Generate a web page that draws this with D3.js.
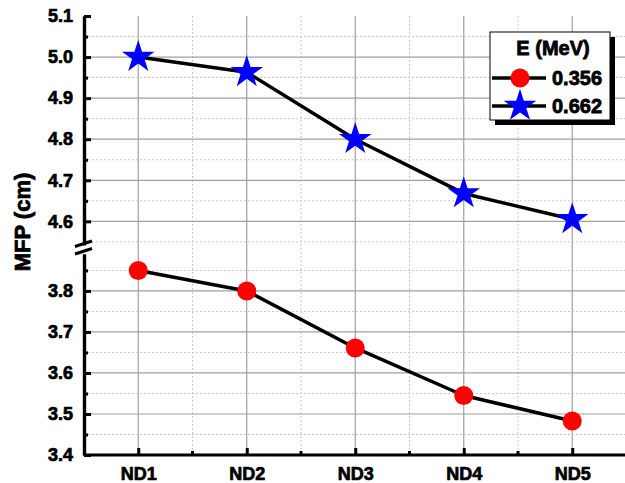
<!DOCTYPE html>
<html>
<head>
<meta charset="utf-8">
<script src="https://cdn.jsdelivr.net/npm/d3@7"></script>
<style>
  body { margin: 0; background: #fff; }
  text { font-family: "Liberation Sans", Arial, sans-serif; font-weight: bold; }
</style>
</head>
<body>
<script>
// data
var categories = ["ND1", "ND2", "ND3", "ND4", "ND5"];
var energies = ["0.356", "0.662"];
var mfp356 = [3.85, 3.80, 3.661, 3.545, 3.483];
var mfp662 = [5.00, 4.963, 4.80, 4.668, 4.605];
var upperTicks = [4.6, 4.7, 4.8, 4.9, 5.0, 5.1];
var lowerTicks = [3.4, 3.5, 3.6, 3.7, 3.8];
var upperMinor = [4.55, 4.65, 4.75, 4.85, 4.95, 5.05];
var lowerMinor = [3.45, 3.55, 3.65, 3.75, 3.85];

var width = 625, height = 483;
var left = 84, right = 626.5;

var svg = d3.select("body").append("svg")
  .attr("width", width)
  .attr("height", height);

var x = d3.scalePoint().domain(categories).range([left, right]).padding(0.5);
var step = x.step();

// two y segments of the broken axis
var yUp = d3.scaleLinear().domain([4.54, 5.1]).range([246, 16]);
var yLo = d3.scaleLinear().domain([3.4, 3.89]).range([455, 254]);

var grid = svg.append("g");

// vertical grid
var minorX = categories.map(function(c) { return x(c) + step / 2; });
grid.selectAll(".vminor").data(minorX).enter().append("line")
  .attr("x1", function(d) { return d; }).attr("x2", function(d) { return d; })
  .attr("y1", 16).attr("y2", 455)
  .attr("stroke", "#c8c8c8").attr("stroke-width", 1).attr("stroke-dasharray", "2,2");
grid.selectAll(".vmajor").data(categories).enter().append("line")
  .attr("x1", function(d) { return x(d); }).attr("x2", function(d) { return x(d); })
  .attr("y1", 16).attr("y2", 455)
  .attr("stroke", "#a0a0a0").attr("stroke-width", 1.2);

// horizontal grid
function hgrid(vals, scale, major) {
  grid.selectAll(null).data(vals).enter().append("line")
    .attr("x1", left).attr("x2", width)
    .attr("y1", function(d) { return scale(d); }).attr("y2", function(d) { return scale(d); })
    .attr("stroke", major ? "#a0a0a0" : "#c8c8c8")
    .attr("stroke-width", major ? 1.2 : 1)
    .attr("stroke-dasharray", major ? null : "2,2");
}
hgrid(upperMinor, yUp, false);
hgrid(lowerMinor, yLo, false);
hgrid(upperTicks.filter(function(d) { return d < 5.1; }), yUp, true);
hgrid(lowerTicks.filter(function(d) { return d > 3.4; }), yLo, true);

// axes
var axisUp = d3.axisLeft(yUp).tickValues(upperTicks).tickFormat(d3.format(".1f")).tickSizeInner(-7).tickSizeOuter(0).tickPadding(11);
var axisLo = d3.axisLeft(yLo).tickValues(lowerTicks).tickFormat(d3.format(".1f")).tickSizeInner(-7).tickSizeOuter(0).tickPadding(11);
var axisUpMinor = d3.axisLeft(yUp).tickValues(upperMinor).tickFormat("").tickSizeInner(-4).tickSizeOuter(0);
var axisLoMinor = d3.axisLeft(yLo).tickValues(lowerMinor).tickFormat("").tickSizeInner(-4).tickSizeOuter(0);

function styleAxis(g) {
  g.attr("font-size", null).attr("font-family", null);
  g.selectAll("path").attr("stroke", "#000").attr("stroke-width", 3.2);
  g.selectAll("line").attr("stroke", "#000").attr("stroke-width", 3);
  g.selectAll("text").attr("fill", "#000")
    .attr("stroke", "#000").attr("stroke-width", 0.7)
    .style("font-size", "18px");
}

svg.append("g").attr("transform", "translate(" + left + ",0)").call(axisUpMinor).call(styleAxis);
svg.append("g").attr("transform", "translate(" + left + ",0)").call(axisLoMinor).call(styleAxis);
svg.append("g").attr("transform", "translate(" + left + ",0)").call(axisUp).call(styleAxis);
svg.append("g").attr("transform", "translate(" + left + ",0)").call(axisLo).call(styleAxis);

var axisX = d3.axisBottom(x).tickSizeInner(-7).tickSizeOuter(0).tickPadding(12);
var xg = svg.append("g").attr("transform", "translate(0,455)").call(axisX).call(styleAxis);
xg.select("path").attr("d", "M" + left + ",0H" + width);
var xMinor = svg.append("g").attr("transform", "translate(0,455)");
xMinor.selectAll("line").data(minorX).enter().append("line")
  .attr("x1", function(d) { return d; }).attr("x2", function(d) { return d; })
  .attr("y1", 0).attr("y2", -4)
  .attr("stroke", "#000").attr("stroke-width", 3);

// break marks
var brk = svg.append("g");
brk.append("rect").attr("x", left - 3).attr("y", 245.5).attr("width", 6).attr("height", 4).attr("fill", "#fff");
[243.5, 251].forEach(function(yy) {
  brk.append("line")
    .attr("x1", left - 9).attr("y1", yy + 3)
    .attr("x2", left + 8).attr("y2", yy - 2.5)
    .attr("stroke", "#000").attr("stroke-width", 3);
});

// y title
svg.append("text")
  .attr("transform", "translate(30,222) rotate(-90)")
  .attr("text-anchor", "middle")
  .attr("stroke", "#000").attr("stroke-width", 0.8)
  .style("font-size", "22px")
  .text("MFP (cm)");

// series
var line = d3.line();
var pts356 = mfp356.map(function(v, i) { return [x(categories[i]), yLo(v)]; });
var pts662 = mfp662.map(function(v, i) { return [x(categories[i]), yUp(v)]; });

svg.append("path").attr("d", line(pts356)).attr("fill", "none").attr("stroke", "#000").attr("stroke-width", 3.5).attr("stroke-linejoin", "round");
svg.append("path").attr("d", line(pts662)).attr("fill", "none").attr("stroke", "#000").attr("stroke-width", 3.5).attr("stroke-linejoin", "round");

var star = d3.symbol().type(d3.symbolStar).size(330);

svg.selectAll(".c356").data(pts356).enter().append("circle")
  .attr("cx", function(d) { return d[0]; }).attr("cy", function(d) { return d[1]; })
  .attr("r", 9.5).attr("fill", "#ff0000");
svg.selectAll(".s662").data(pts662).enter().append("path")
  .attr("d", star)
  .attr("transform", function(d) { return "translate(" + d[0] + "," + d[1] + ")"; })
  .attr("fill", "#0000ff");

// legend
var lg = svg.append("g").attr("transform", "translate(490,32)");
lg.append("rect").attr("x", 5).attr("y", 5).attr("width", 120).attr("height", 88).attr("fill", "#000");
lg.append("rect").attr("x", 0).attr("y", 0).attr("width", 120).attr("height", 88)
  .attr("fill", "#fff").attr("stroke", "#000").attr("stroke-width", 1);
lg.append("text").attr("x", 63).attr("y", 23).attr("text-anchor", "middle")
  .attr("stroke", "#000").attr("stroke-width", 0.8)
  .style("font-size", "20px").text("E (MeV)");
energies.forEach(function(e, i) {
  var yy = 46 + i * 28;
  lg.append("line").attr("x1", 2).attr("x2", 56).attr("y1", yy).attr("y2", yy)
    .attr("stroke", "#000").attr("stroke-width", 3.5);
  if (i === 0) {
    lg.append("circle").attr("cx", 30).attr("cy", yy).attr("r", 9.5).attr("fill", "#ff0000");
  } else {
    lg.append("path").attr("d", star).attr("transform", "translate(30," + yy + ")").attr("fill", "#0000ff");
  }
  lg.append("text").attr("x", 62).attr("y", yy + 7)
    .attr("stroke", "#000").attr("stroke-width", 0.8)
    .style("font-size", "20px").text(e);
});
</script>
</body>
</html>
